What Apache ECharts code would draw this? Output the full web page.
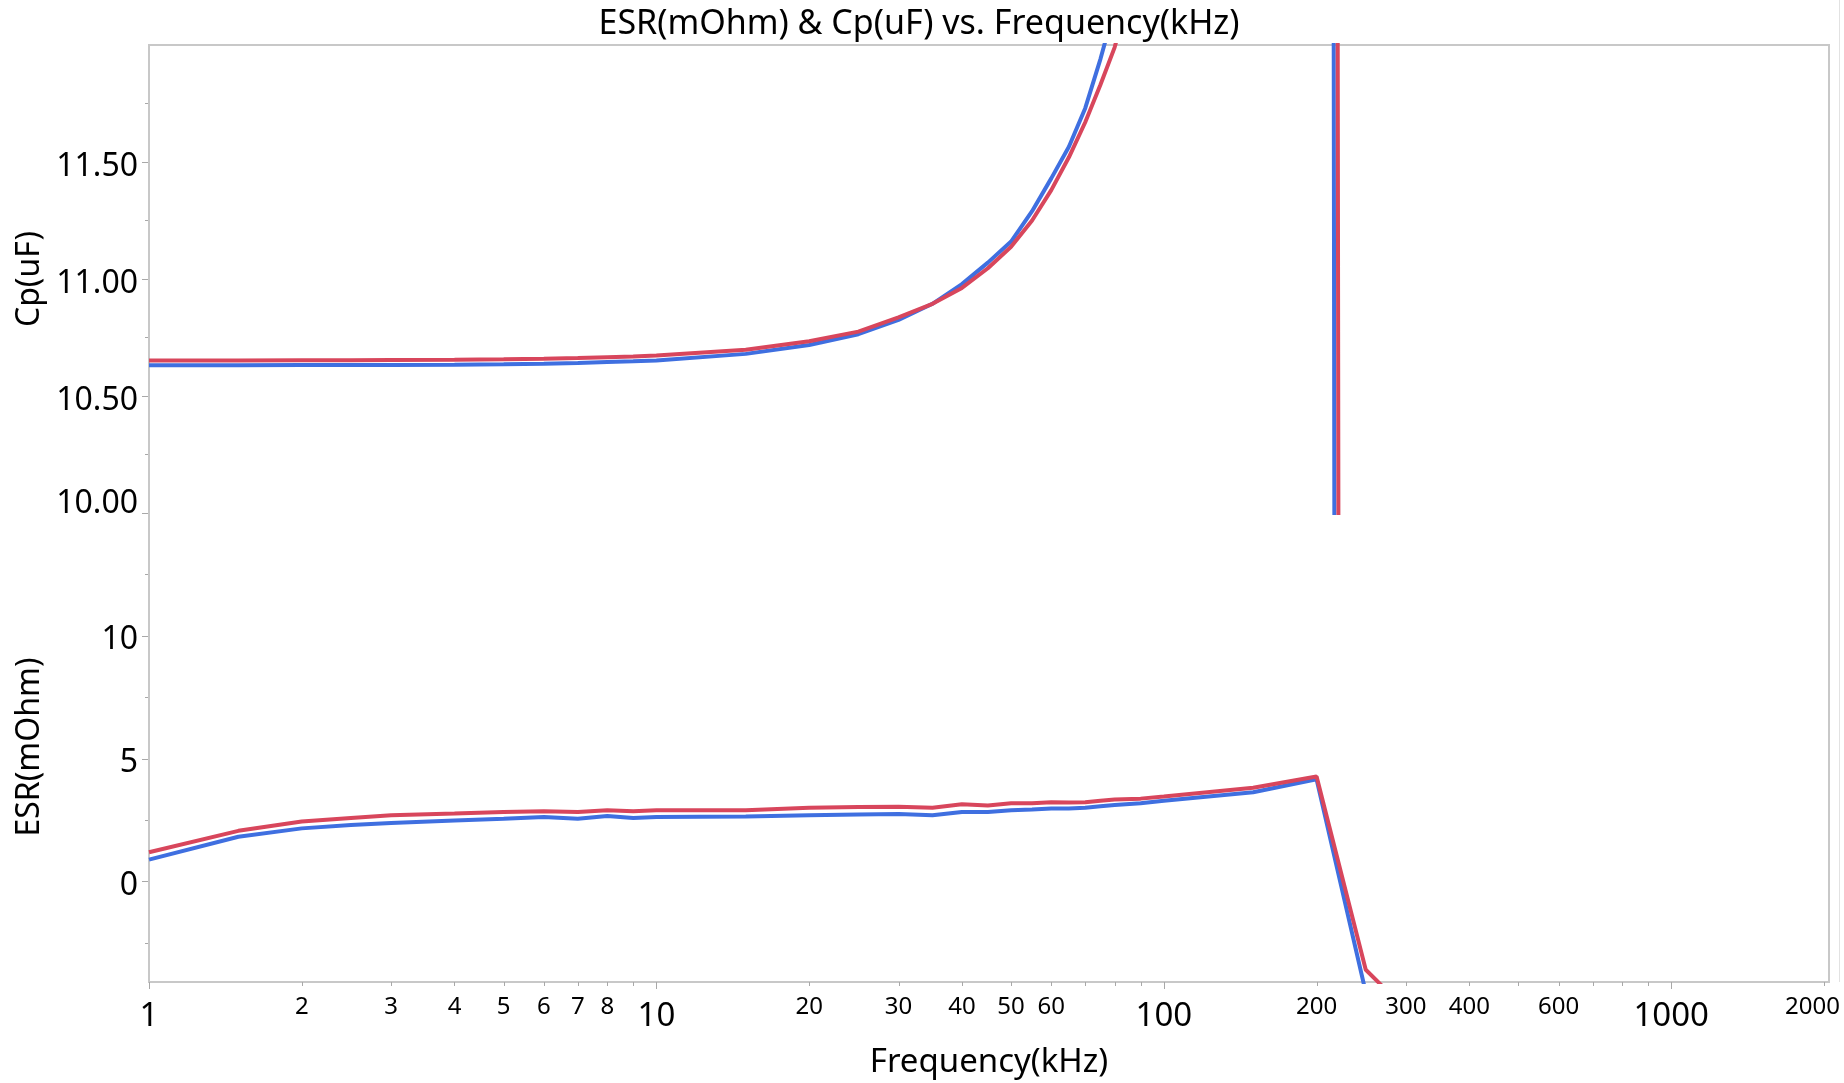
<!DOCTYPE html>
<html>
<head>
<meta charset="utf-8">
<script src="https://cdn.jsdelivr.net/npm/echarts@6/dist/echarts.min.js"></script>
<style>
html,body{margin:0;padding:0;background:#fff;}
#c{width:1844px;height:1083px;}
</style>
</head>
<body>
<div id="c"></div>
<script>
// ---------------- data ----------------
const FREQ    = [1, 1.5, 2, 2.5, 3, 4, 5, 6, 7, 8, 9, 10, 15, 20, 25, 30, 35, 40, 45, 50, 55, 60, 65, 70, 75, 80, 90, 100, 150, 200, 250, 300];
const CP_BLUE = [10.631,10.631,10.632,10.632,10.633,10.634,10.636,10.638,10.641,10.645,10.648,10.652,10.680,10.718,10.764,10.825,10.894,10.978,11.070,11.160,11.290,11.430,11.565,11.730,11.940,12.160,12.600,13.200,20.0,65.0,-87.0,-30.0];
const CP_RED  = [10.652,10.652,10.653,10.653,10.654,10.655,10.657,10.659,10.662,10.666,10.669,10.673,10.698,10.734,10.775,10.836,10.894,10.962,11.046,11.138,11.250,11.380,11.520,11.670,11.830,11.990,12.400,13.000,19.0,75.0,-71.5,-28.0];
const ESR_BLUE= [0.90,1.83,2.17,2.31,2.39,2.49,2.56,2.63,2.56,2.67,2.59,2.63,2.65,2.70,2.73,2.75,2.70,2.84,2.84,2.91,2.94,2.98,2.98,3.01,3.07,3.12,3.19,3.29,3.64,4.17,-4.50,-7.0];
const ESR_RED = [1.20,2.07,2.45,2.59,2.70,2.77,2.84,2.87,2.84,2.91,2.87,2.91,2.91,3.01,3.04,3.05,3.01,3.15,3.10,3.19,3.19,3.23,3.22,3.23,3.29,3.34,3.38,3.47,3.82,4.28,-3.58,-5.20];

// axis ranges and ticks
const X_MIN = 1, X_MAX = 2046;
const CP_MIN = 10, CP_MAX = 12;
const ESR_MIN = -4.08, ESR_MAX = 15;
const CP_MAJOR = [10, 10.5, 11, 11.5];
const CP_MINOR = [10.25, 10.75, 11.25, 11.75];
const ESR_MAJOR = [0, 5, 10];
const ESR_MINOR = [-2.5, 2.5, 7.5, 12.5];
const X_MAJOR_TICKS = [1, 10, 100, 1000];
const X_MINOR_TICKS = [2,3,4,5,6,7,8,9,20,30,40,50,60,70,80,90,200,300,400,500,600,700,800,900,2000];
const X_BIG_LABELS = [1, 10, 100, 1000];
const X_SMALL_LABELS = [2,3,4,5,6,7,8,20,30,40,50,60,200,300,400,600,2000];

const TITLE = 'ESR(mOhm) & Cp(uF) vs. Frequency(kHz)';
const X_NAME = 'Frequency(kHz)';
const CP_NAME = 'Cp(uF)';
const ESR_NAME = 'ESR(mOhm)';

// ---------------- style ----------------
const FONT = "'Noto Sans', 'DejaVu Sans', sans-serif";
const BLUE = '#3f6fe0';
const RED = '#d8465c';
const FRAME = '#c8c8c8';
const TICK = '#a8a8a8';
const LW = 4;

const chart = echarts.init(document.getElementById('c'), null, {renderer: 'canvas'});

// x tick/label items drawn through the log axis scale
const xItems = [];
X_MAJOR_TICKS.forEach(v => xItems.push([v, ESR_MIN, 0]));
X_MINOR_TICKS.forEach(v => xItems.push([v, ESR_MIN, 1]));
X_BIG_LABELS.forEach(v => xItems.push([v, ESR_MIN, 2]));
X_SMALL_LABELS.forEach(v => xItems.push([v, ESR_MIN, 3]));

function renderX(params, api) {
  const v = api.value(0), kind = api.value(2);
  const p = api.coord([v, ESR_MIN]);
  const x = Math.round(p[0]) + 0.5, y = p[1];
  if (kind === 0 || kind === 1) {
    const len = kind === 0 ? 7 : 4;
    return {type: 'line', shape: {x1: x, y1: y, x2: x, y2: y + len},
            style: {stroke: TICK, lineWidth: 1}};
  }
  const big = kind === 2;
  const fs = big ? 33 : 24;
  const text = String(v);
  let tx = p[0], align = 'center';
  const half = text.length * fs * 0.29;
  const w = api.getWidth();
  if (tx + half > w - 4) { tx = w - 4; align = 'right'; }
  return {type: 'text', x: tx, y: y + (big ? 35 : 25),
          style: {text: text, fontSize: fs, fontFamily: FONT, fill: '#000',
                  align: align, verticalAlign: 'middle'}};
}

function lineSeries(name, xi, yi, ys, color) {
  return {
    name: name, type: 'line', xAxisIndex: xi, yAxisIndex: yi,
    data: FREQ.map((f, i) => [f, ys[i]]),
    showSymbol: false, symbol: 'none', clip: true,
    lineStyle: {color: color, width: LW},
    itemStyle: {color: color},
    emphasis: {disabled: true}
  };
}

const yLabelBase = {fontSize: 32, fontFamily: FONT, color: '#000', margin: 11};

const option = {
  animation: false,
  backgroundColor: '#fff',
  grid: [
    {left: 149, top: 45, width: 1680, height: 468, containLabel: false},
    {left: 149, top: 513, width: 1680, height: 469, containLabel: false}
  ],
  xAxis: [
    {type: 'log', logBase: 10, gridIndex: 0, min: X_MIN, max: X_MAX,
     axisLine: {show: false}, axisTick: {show: false}, axisLabel: {show: false}, splitLine: {show: false}},
    {type: 'log', logBase: 10, gridIndex: 1, min: X_MIN, max: X_MAX,
     axisLine: {show: false}, axisTick: {show: false}, axisLabel: {show: false}, splitLine: {show: false}}
  ],
  yAxis: [
    {type: 'value', gridIndex: 0, position: 'left', min: CP_MIN, max: CP_MAX,
     axisLine: {show: false}, splitLine: {show: false},
     axisTick: {show: true, customValues: CP_MAJOR, length: 7, lineStyle: {color: TICK, width: 1}},
     axisLabel: Object.assign({}, yLabelBase, {
       padding: [10, 0, 0, 0],
       customValues: CP_MAJOR,
       formatter: v => v === CP_MIN ? '{lo|' + v.toFixed(2) + '}' : v.toFixed(2),
       rich: {lo: {fontSize: 32, fontFamily: FONT, color: '#000', padding: [0, 0, 28, 0]}}
     })},
    {type: 'value', gridIndex: 0, position: 'left', min: CP_MIN, max: CP_MAX,
     axisLine: {show: false}, splitLine: {show: false}, axisLabel: {show: false},
     axisTick: {show: true, customValues: CP_MINOR, length: 4, lineStyle: {color: TICK, width: 1}}},
    {type: 'value', gridIndex: 1, position: 'left', min: ESR_MIN, max: ESR_MAX,
     axisLine: {show: false}, splitLine: {show: false},
     axisTick: {show: true, customValues: ESR_MAJOR, length: 7, lineStyle: {color: TICK, width: 1}},
     axisLabel: Object.assign({}, yLabelBase, {
       customValues: ESR_MAJOR,
       formatter: v => '{e|' + v + '}',
       rich: {e: {fontSize: 32, fontFamily: FONT, color: '#000', padding: [8, 0, 0, 0]}}
     })},
    {type: 'value', gridIndex: 1, position: 'left', min: ESR_MIN, max: ESR_MAX,
     axisLine: {show: false}, splitLine: {show: false}, axisLabel: {show: false},
     axisTick: {show: true, customValues: ESR_MINOR, length: 4, lineStyle: {color: TICK, width: 1}}}
  ],
  graphic: [
    {type: 'line', shape: {x1: 1839.5, y1: 0, x2: 1839.5, y2: 982}, style: {stroke: '#e2e2e2', lineWidth: 1}, z: 0},
    {type: 'rect', shape: {x: 149, y: 45, width: 1680, height: 937},
     style: {fill: null, stroke: FRAME, lineWidth: 2}, z: 1, silent: true},
    {type: 'text', x: 919, y: 24.5, style: {text: TITLE, fontSize: 34, fontFamily: FONT, fill: '#000', align: 'center', verticalAlign: 'middle'}},
    {type: 'text', x: 30, y: 279, rotation: Math.PI / 2, style: {text: CP_NAME, fontSize: 32, fontFamily: FONT, fill: '#000', align: 'center', verticalAlign: 'middle'}},
    {type: 'text', x: 30, y: 747, rotation: Math.PI / 2, style: {text: ESR_NAME, fontSize: 32, fontFamily: FONT, fill: '#000', align: 'center', verticalAlign: 'middle'}},
    {type: 'text', x: 989, y: 1063, style: {text: X_NAME, fontSize: 33, fontFamily: FONT, fill: '#000', align: 'center', verticalAlign: 'middle'}}
  ],
  series: [
    lineSeries('Cp A', 0, 0, CP_BLUE, BLUE),
    lineSeries('Cp B', 0, 0, CP_RED, RED),
    lineSeries('ESR A', 1, 2, ESR_BLUE, BLUE),
    lineSeries('ESR B', 1, 2, ESR_RED, RED),
    {type: 'custom', xAxisIndex: 1, yAxisIndex: 2, data: xItems, renderItem: renderX,
     clip: false, silent: true, z: 5}
  ]
};
chart.setOption(option);
</script>
</body>
</html>
